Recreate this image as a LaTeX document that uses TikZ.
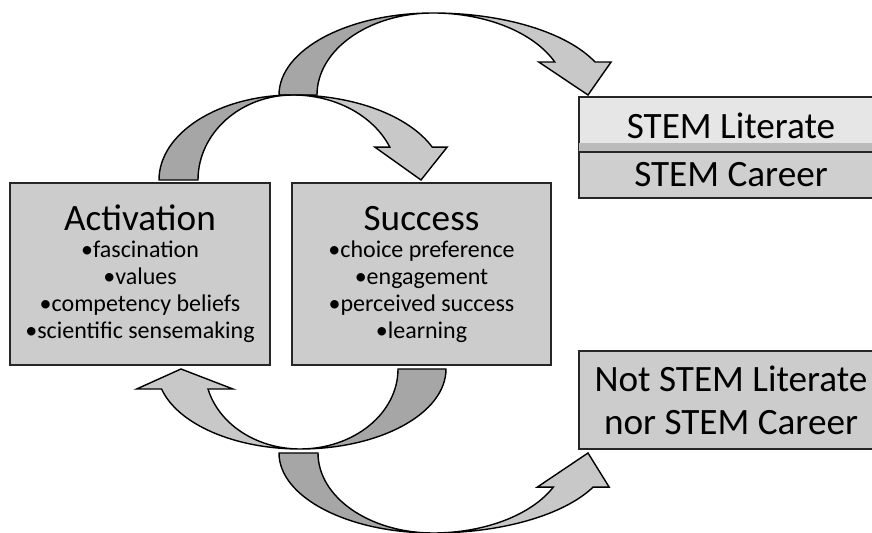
\documentclass[tikz,border=0pt]{standalone}
\usepackage{fontspec}
\setmainfont{Carlito}
\usepackage{tikz}
\pgfdeclarelayer{edgelayer}
\pgfdeclarelayer{nodelayer}
\pgfsetlayers{edgelayer,nodelayer,main}
\definecolor{boxgray}{HTML}{CCCCCC}
\definecolor{litgray}{HTML}{E6E6E6}
\definecolor{bandgray}{HTML}{BBBBBB}
\definecolor{careergray}{HTML}{CFCFCF}
\definecolor{backgray}{HTML}{A6A6A6}
\definecolor{frontgray}{HTML}{C8C8C8}
\tikzstyle{box}=[rectangle,draw=black!85,line width=1pt,fill=boxgray,align=center,minimum width=130pt,minimum height=91pt,font=\fontsize{12}{13.5}\selectfont]
\tikzstyle{outcome}=[rectangle,draw=black!85,line width=1pt,fill=boxgray,align=center,minimum width=152pt,font=\fontsize{18.6}{21.5}\selectfont]
\tikzstyle{ribbonback}=[draw=black,line width=0.7pt,fill=backgray]
\tikzstyle{ribbonfront}=[draw=black,line width=0.7pt,fill=frontgray]
\newcommand{\boxtitle}[1]{{\fontsize{18.6}{13.5}\selectfont #1}}
\newcommand{\ribbon}[8]{%
	\begin{scope}[#1]
		\draw [style=ribbonback] (-#3,0) arc[start angle=180, end angle=90, x radius=#3, y radius=#2] arc[start angle=90, end angle=180, x radius=#4, y radius=#2] -- cycle;
		\draw [style=ribbonfront] (0,#2) arc[start angle=90, end angle=#7, x radius=#5, y radius=#2] -- ++(#8,0) -- ({(#5+#6)/2},0) -- ({#6*cos(#7)-#8},{#2*sin(#7)}) -- ({#6*cos(#7)},{#2*sin(#7)}) arc[start angle=#7, end angle=90, x radius=#6, y radius=#2] -- cycle;
	\end{scope}}

\begin{document}
\begin{tikzpicture}[x=0.5pt,y=-0.5pt]
	\useasboundingbox (0,0) rectangle (872,533);
	\begin{pgfonlayer}{nodelayer}
		\node [style=box] (0) at (140,274) {\boxtitle{Activation}\\•fascination\\•values\\•competency beliefs\\•scientific sensemaking};
		\node [style=box, minimum width=129.5pt] (1) at (421.5,274) {\boxtitle{Success}\\•choice preference\\•engagement\\•perceived success\\•learning};
		\node [style=outcome, fill=litgray, minimum height=27.5pt, text height=14.5pt, text depth=0pt] (2) at (731,124.5) {STEM Literate};
		\fill [bandgray] ([xshift=0.6pt,yshift=5pt]2.south west) rectangle ([xshift=-0.6pt]2.south east);
		\node [style=outcome, fill=careergray, minimum height=23pt] (3) at (731,175) {STEM Career};
		\node [style=outcome, minimum height=49pt] (4) at (731,400) {Not STEM Literate\\nor STEM Career};
	\end{pgfonlayer}
	\begin{pgfonlayer}{edgelayer}
		\ribbon{shift={(433,95)},yscale=-1}{82}{154}{116}{177}{133}{23.7}{16}
		\ribbon{shift={(293,180)},yscale=-1}{85}{134}{95}{151}{105}{22.8}{15}
		\ribbon{shift={(300,369)},xscale=-1}{80}{146}{98}{143}{95}{14.5}{25}
		\ribbon{shift={(433,453)}}{80}{154}{115}{177}{133}{25.2}{16}
	\end{pgfonlayer}
\end{tikzpicture}
\end{document}
